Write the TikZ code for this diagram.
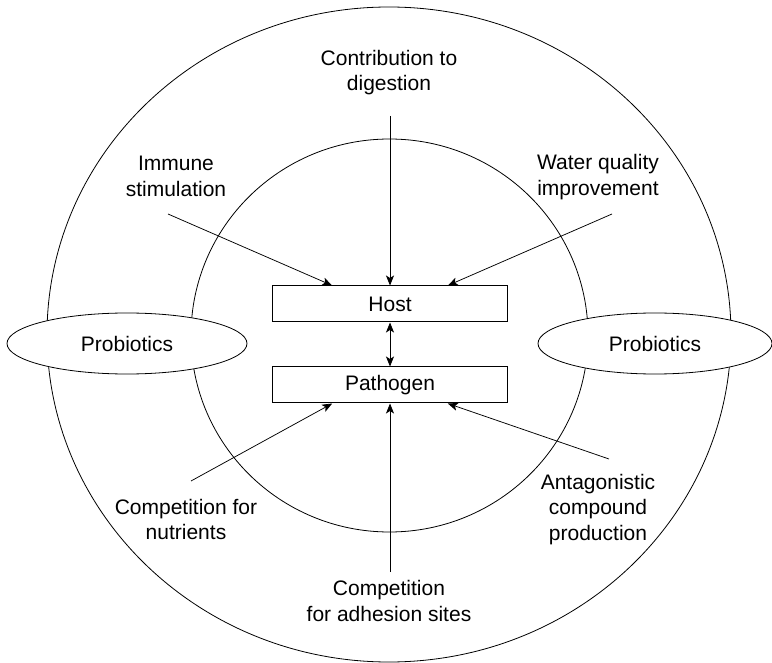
\documentclass[tikz,border=0pt]{standalone}
\usepackage{fontspec}
\setmainfont{Liberation Sans}
\usetikzlibrary{arrows.meta,calc,shapes.geometric}

\tikzset{
  hostbox/.style={draw, line width=1pt, minimum width=235pt, minimum height=36pt, inner sep=0pt},
  probio/.style={draw, fill=white, ellipse, line width=0.8pt, inner sep=0pt},
  effect/.style={align=center, inner sep=0pt},
  push/.style={line width=0.75pt, -{Stealth[length=10pt,width=8pt,inset=2.5pt]}},
  twoway/.style={line width=0.75pt, {Stealth[length=10pt,width=8pt,inset=2.5pt]}-{Stealth[length=10pt,width=8pt,inset=2.5pt]}},
}

\begin{document}
\begin{tikzpicture}[x=1pt, y=-1pt, font=\fontsize{21}{25.5}\selectfont]
	%%%%% START %%%%%
	\useasboundingbox (0,0) rectangle (772,663);
	
	% the two rings
	\draw[line width=0.8pt] (389,334.5) ellipse (342 and 327.5);
	\draw[line width=0.8pt] (389.5,335.5) ellipse (198.5 and 196.5);
	
	% probiotics on both sides
	\node[probio, minimum width=240pt, minimum height=61pt] (probleft) at (127,343.5) {Probiotics};
	\node[probio, minimum width=234pt, minimum height=61pt] (probright) at (655,343.5) {Probiotics};
	
	% host and pathogen
	\node[hostbox] (host) at (390,304) {Host};
	\node[hostbox] (patho) at (390,385) {Pathogen};
	\draw[twoway] (host.south) -- (patho.north);
	
	% effects on the host
	\node[effect] (digest) at (389,72.5) {Contribution to\\digestion};
	\node[effect] (immune) at (176,176.5) {Immune\\stimulation};
	\node[effect] (water) at (598,177) {Water quality\\improvement};
	
	\coordinate (digest-tail) at (390,116);
	\coordinate (immune-tail) at (168,214);
	\coordinate (water-tail) at (612,214);
	
	\draw[push] (digest-tail) -- (host.north);
	\draw[push] (immune-tail) -- ($(host.north west)!0.255!(host.north east)$);
	\draw[push] (water-tail) -- ($(host.north west)!0.745!(host.north east)$);
	
	% effects on the pathogen
	\node[effect] (nutri) at (186,519.5) {Competition for\\nutrients};
	\node[effect] (antag) at (598,509.5) {Antagonistic\\compound\\production};
	\node[effect] (adhes) at (389,601) {Competition\\for adhesion sites};
	
	\coordinate (nutri-tail) at (191,481);
	\coordinate (antag-tail) at (609,459);
	\coordinate (adhes-tail) at (390,572);
	
	\draw[push] (nutri-tail) -- ($(patho.south west)!0.255!(patho.south east)$);
	\draw[push] (antag-tail) -- ($(patho.south west)!0.745!(patho.south east)$);
	\draw[push] (adhes-tail) -- (patho.south);
	
	%%%%% END %%%%%
\end{tikzpicture}
\end{document}
